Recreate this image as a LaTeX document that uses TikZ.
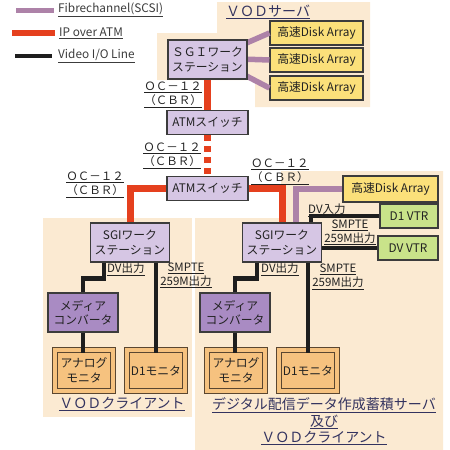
\documentclass[tikz,border=0pt]{standalone}
\usepackage{fontspec}
\setmainfont{Noto Sans CJK JP}
\usetikzlibrary{calc}
\definecolor{peach}{HTML}{FBEAD2}
\definecolor{lav}{HTML}{D6C6E4}
\definecolor{medp}{HTML}{A98BC3}
\definecolor{yel}{HTML}{FBE07A}
\definecolor{grn}{HTML}{C9E38A}
\definecolor{monf}{HTML}{F6C27F}
\definecolor{monb}{HTML}{5A4630}
\definecolor{bord}{HTML}{3C3C3C}
\definecolor{atmred}{HTML}{E5401E}
\definecolor{fcc}{HTML}{AD82A8}
\definecolor{vid}{HTML}{1E1E1E}
\definecolor{txt}{HTML}{222222}
\definecolor{ttl}{HTML}{33335F}
\begin{document}
\begin{tikzpicture}[x=1pt,y=-1pt,
  every node/.style={font=\fontsize{11.8}{14.5}\selectfont, text=txt, inner sep=0pt},
  box/.style={draw=bord, line width=1.1pt, fill=lav, align=center, minimum width=79pt, minimum height=39pt},
  atmbox/.style={draw=bord, line width=1.1pt, fill=lav, minimum width=81pt, minimum height=24pt},
  mcbox/.style={draw=bord, line width=1.1pt, fill=medp, align=center, minimum width=70pt, minimum height=39pt},
  disk/.style={draw=bord, line width=1.1pt, fill=yel, minimum height=24pt},
  vtr/.style={draw=bord, line width=1.1pt, fill=grn, minimum height=24pt},
  mon/.style={draw=monb, line width=0.9pt, double=monf, double distance=4pt, fill=monf, align=center, minimum width=58pt, minimum height=41pt},
  ipatm/.style={draw=atmred, line width=7pt},
  fch/.style={draw=fcc, line width=5.5pt},
  vio/.style={draw=vid, line width=4.5pt},
  lbl/.style={align=center, font=\fontsize{11.5}{14}\selectfont},
  title/.style={align=center, text=ttl, font=\fontsize{14}{16.5}\selectfont}
]
\useasboundingbox (0,0) rectangle (450,450);

% background regions
\fill[peach] (217,2) -- (370,2) -- (370,107) -- (255,107) -- (255,80) -- (157,80) -- (157,33) -- (217,33) -- cycle;
\fill[peach] (43,218) rectangle (192,417);
\fill[peach] (281,171) -- (443,171) -- (443,450) -- (195,450) -- (195,218) -- (281,218) -- cycle;

% legend
\coordinate (lg1a) at (16,10); \coordinate (lg1b) at (54,10);
\coordinate (lg2a) at (12,33); \coordinate (lg2b) at (55,33);
\coordinate (lg3a) at (15,56); \coordinate (lg3b) at (52,56);
\draw[fch, line width=5pt] (lg1a) -- (lg1b);
\draw[ipatm, line width=6pt] (lg2a) -- (lg2b);
\draw[vio, line width=4pt] (lg3a) -- (lg3b);
\node[anchor=west, text=bord] (lt1) at (58,10) {\underline{Fibrechannel(SCSI)}};
\node[anchor=west, text=bord] (lt2) at (59,33) {\underline{IP over ATM}};
\node[anchor=west, text=bord] (lt3) at (58,56) {\underline{Video I/O Line}};

% VOD server
\node[title, anchor=west] (tvod) at (226,12) {\underline{ＶＯＤサーバ}};
\node[disk, minimum width=93pt] (dk1) at (316.5,33) {高速Disk Array};
\node[disk, minimum width=93pt] (dk2) at (316.5,60) {高速Disk Array};
\node[disk, minimum width=93pt] (dk3) at (316.5,88) {高速Disk Array};
\coordinate (fanc) at (212,58);
\draw[fch] (fanc) -- (dk1.west);
\draw[fch] (fanc) -- (dk2.west);
\draw[fch] (fanc) -- (dk3.west);
\node[box] (sgi) at (207.5,59.5) {ＳＧＩワーク\\ステーション};

% ATM switches
\node[atmbox] (atm1) at (207.5,122.5) {ATMスイッチ};
\node[atmbox] (atm2) at (207.5,188.5) {ATMスイッチ};

% client workstations
\node[box] (sgiL) at (130,242.5) {SGIワーク\\ステーション};
\node[box] (sgiR) at (282,242.5) {SGIワーク\\ステーション};

% IP over ATM links
\draw[ipatm] (sgi.south) -- (atm1.north);
\draw[ipatm, dash pattern=on 6pt off 5pt] (atm1.south) -- (atm2.north);
\draw[ipatm] (atm2.west) -| (sgiL.north);
\draw[ipatm] (atm2.east) -| (sgiR.north);

\node[lbl, anchor=east] (oc1) at (202,95) {\underline{ＯＣ－１２}\\\underline{（ＣＢＲ）}};
\node[lbl, anchor=east] (oc2) at (201,156) {\underline{ＯＣ－１２}\\\underline{（ＣＢＲ）}};
\node[lbl, anchor=east] (oc3) at (124,185) {\underline{ＯＣ－１２}\\\underline{（ＣＢＲ）}};
\node[lbl, anchor=west] (oc4) at (251,172) {\underline{ＯＣ－１２}\\\underline{（ＣＢＲ）}};

% right side devices
\node[disk, minimum width=95pt, minimum height=26pt] (dkR) at (390.5,189) {高速Disk Array};
\node[vtr, minimum width=58pt] (d1vtr) at (409,216) {D1 VTR};
\node[vtr, minimum width=60pt] (dvvtr) at (408,248) {DV VTR};
\draw[fch] ([xshift=14pt]sgiR.north) |- (dkR.west);
\draw[vio] ([xshift=29pt]sgiR.north) |- (d1vtr.west);
\draw[vio] (sgiR.east |- dvvtr.west) -- (dvvtr.west);
\node[lbl, anchor=west] (dvin) at (308,210) {\underline{DV入力}};
\node[lbl] (smR1) at (350,232.5) {\underline{SMPTE}\\\underline{259M出力}};

% media converters and monitors
\node[mcbox] (mcL) at (83,312.5) {メディア\\コンバータ};
\node[mcbox] (mcR) at (235,312.5) {メディア\\コンバータ};
\node[mon] (anL) at (84,370.5) {アナログ\\モニタ};
\node[mon] (d1L) at (156,370.5) {D1モニタ};
\node[mon] (anR) at (236,370.5) {アナログ\\モニタ};
\node[mon] (d1R) at (308,370.5) {D1モニタ};

% video lines left
\draw[vio] ([xshift=-26pt]sgiL.south) -- ++(0,16) -| (mcL.north);
\draw[vio] (d1L.north |- sgiL.south) -- ([yshift=-3pt]d1L.north);
\draw[vio] (mcL.south) -- ([yshift=-3pt]anL.north -| mcL.south);
% video lines right
\draw[vio] ([xshift=-25pt]sgiR.south) -- ++(0,16) -| (mcR.north);
\draw[vio] (d1R.north |- sgiR.south) -- ([yshift=-3pt]d1R.north);
\draw[vio] (mcR.south) -- ([yshift=-3pt]anR.north -| mcR.south);

\node[lbl, anchor=west] (dvL) at (107,269) {\underline{DV出力}};
\node[lbl] (smL) at (186,275.5) {\underline{SMPTE}\\\underline{259M出力}};
\node[lbl, anchor=west] (dvR) at (261,269) {\underline{DV出力}};
\node[lbl] (smR2) at (338,277) {\underline{SMPTE}\\\underline{259M出力}};

% titles
\node[title] (tcl) at (122,404) {\underline{ＶＯＤクライアント}};
\node[title] (tsv) at (324,421.5) {\underline{デジタル配信データ作成蓄積サーバ}\\\underline{及び}\\\underline{ＶＯＤクライアント}};
\end{tikzpicture}
\end{document}
